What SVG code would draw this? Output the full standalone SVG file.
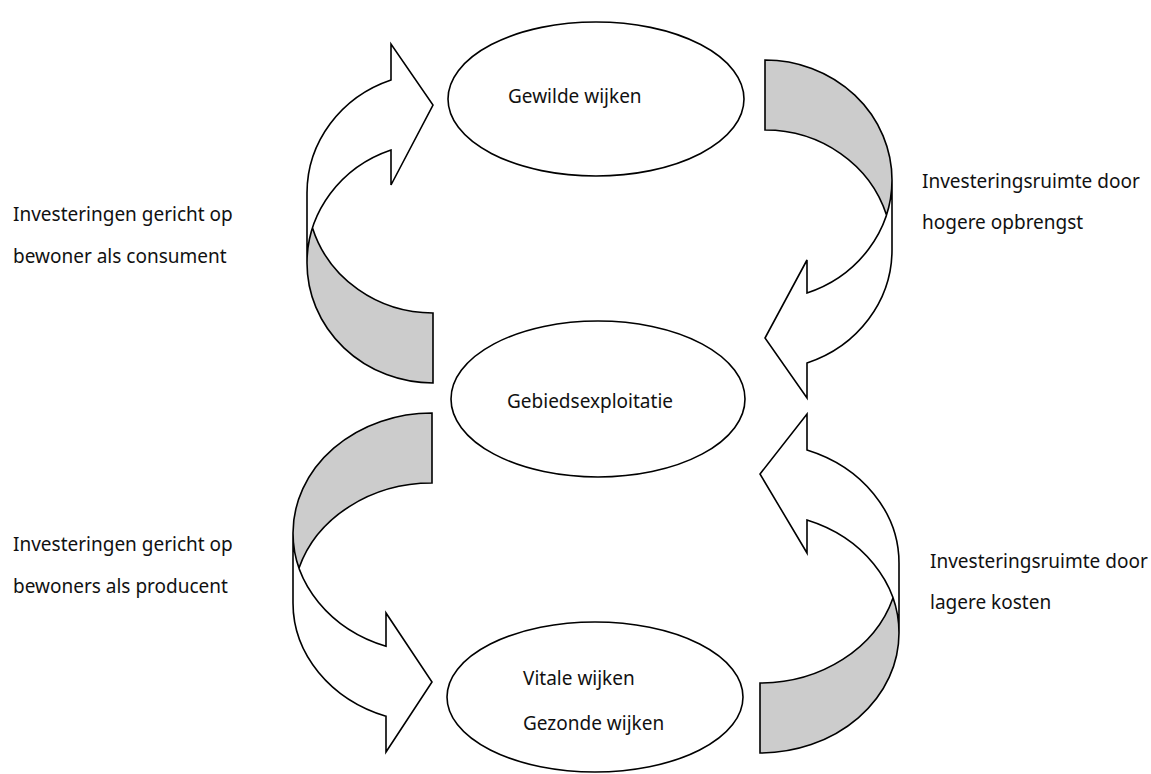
<svg xmlns="http://www.w3.org/2000/svg" width="1151" height="774" viewBox="0 0 1151 774">
  <style>
    .bg { fill: #ffffff; }
    .node { fill: #ffffff; stroke: #000000; stroke-width: 1.6; }
    .front { fill: #ffffff; stroke: none; }
    .back { fill: #cccccc; stroke: none; }
    .edge { fill: none; stroke: #000000; stroke-width: 1.6; stroke-linejoin: miter; }
    .lbl { font-family: "Noto Sans", "Open Sans", "DejaVu Sans", sans-serif; font-size: 19px; fill: #111111; }
  </style>
  <rect class="bg" x="0" y="0" width="1151" height="774"/>

  <!-- curved arrows linking the three nodes -->
  <g id="connectors">
    <!-- left top: from Gebiedsexploitatie up to Gewilde wijken -->
    <g id="arrow-consument">
      <path class="front" d="M307,263 A126,120 0 0 1 391,150 L391,185 L433,105 L391,44 L391,80 A126,120 0 0 0 307,193 Z"/>
      <path class="back" d="M433,313 A126,120 0 0 1 312.5,228 A126,120 0 0 0 433,383 Z"/>
      <path class="edge" d="M307,263 A126,120 0 0 1 391,150 L391,185 L433,105 L391,44 L391,80 A126,120 0 0 0 307,193 L307,263 A126,120 0 0 0 433,383 L433,313 A126,120 0 0 1 312.5,228"/>
    </g>
    <!-- right top: from Gewilde wijken down to Gebiedsexploitatie -->
    <g id="arrow-opbrengst">
      <path class="front" d="M892,180 A127,120 0 0 1 807,293 L807,260 L765,338 L807,398 L807,363 A127,120 0 0 0 892,250 Z"/>
      <path class="back" d="M765,130 A127,120 0 0 1 886.5,215 A127,120 0 0 0 765,60 Z"/>
      <path class="edge" d="M892,180 A127,120 0 0 1 807,293 L807,260 L765,338 L807,398 L807,363 A127,120 0 0 0 892,250 L892,180 A127,120 0 0 0 765,60 L765,130 A127,120 0 0 1 886.5,215"/>
    </g>
    <!-- left bottom: from Gebiedsexploitatie down to Vitale wijken -->
    <g id="arrow-producent">
      <path class="front" d="M293,533 A139,120 0 0 0 386,646.2 L386,613 L432,682 L386,752 L386,716.2 A139,120 0 0 1 293,603 Z"/>
      <path class="back" d="M432,413 A139,120 0 0 0 299,568 A139,120 0 0 1 432,483 Z"/>
      <path class="edge" d="M293,533 A139,120 0 0 0 386,646.2 L386,613 L432,682 L386,752 L386,716.2 A139,120 0 0 1 293,603 L293,533 A139,120 0 0 1 432,413 L432,483 A139,120 0 0 0 299,568"/>
    </g>
    <!-- right bottom: from Vitale wijken up to Gebiedsexploitatie -->
    <g id="arrow-kosten">
      <path class="front" d="M899,633 A139,120 0 0 0 807,520 L807,553 L760,474 L807,414 L807,450 A139,120 0 0 1 899,563 Z"/>
      <path class="back" d="M760,683 A139,120 0 0 0 893,598 A139,120 0 0 1 760,753 Z"/>
      <path class="edge" d="M899,633 A139,120 0 0 0 807,520 L807,553 L760,474 L807,414 L807,450 A139,120 0 0 1 899,563 L899,633 A139,120 0 0 1 760,753 L760,683 A139,120 0 0 0 893,598"/>
    </g>
  </g>

  <g id="node-gewilde">
    <ellipse class="node" cx="596" cy="99" rx="148" ry="77"/>
    <text class="lbl" x="508" y="103">Gewilde wijken</text>
  </g>

  <g id="node-gebiedsexploitatie">
    <ellipse class="node" cx="598" cy="399" rx="147" ry="78"/>
    <text class="lbl" x="507" y="408">Gebiedsexploitatie</text>
  </g>

  <g id="node-vitale">
    <ellipse class="node" cx="595" cy="697" rx="148" ry="75"/>
    <text class="lbl" x="523" y="685">Vitale wijken</text>
    <text class="lbl" x="523" y="730">Gezonde wijken</text>
  </g>

  <g id="label-consument">
    <text class="lbl" x="13" y="221">Investeringen gericht op</text>
    <text class="lbl" x="13" y="263">bewoner als consument</text>
  </g>

  <g id="label-opbrengst">
    <text class="lbl" x="922" y="188">Investeringsruimte door</text>
    <text class="lbl" x="922" y="229">hogere opbrengst</text>
  </g>

  <g id="label-producent">
    <text class="lbl" x="13" y="551">Investeringen gericht op</text>
    <text class="lbl" x="13" y="593">bewoners als producent</text>
  </g>

  <g id="label-kosten">
    <text class="lbl" x="930" y="568">Investeringsruimte door</text>
    <text class="lbl" x="930" y="609">lagere kosten</text>
  </g>
</svg>
